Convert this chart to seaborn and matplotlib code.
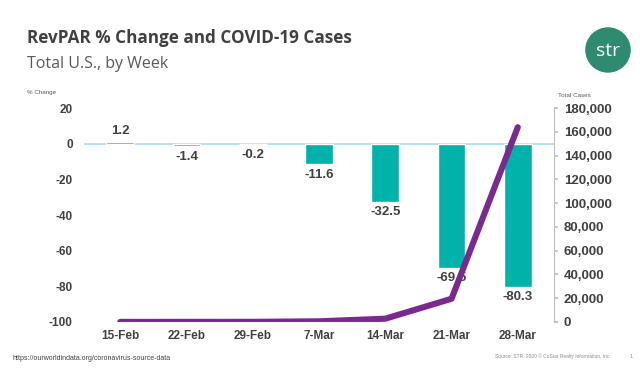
import pandas as pd
import matplotlib.pyplot as plt
import seaborn as sns
from matplotlib.patches import Ellipse

# Data
weeks = ["15-Feb", "22-Feb", "29-Feb", "7-Mar", "14-Mar", "21-Mar", "28-Mar"]
revpar_change = [1.2, -1.4, -0.2, -11.6, -32.5, -69.5, -80.3]
total_cases = [15, 35, 70, 500, 2700, 19500, 164000]

df = pd.DataFrame({"week": weeks, "revpar": revpar_change, "cases": total_cases})

sns.set_theme(style="white")
plt.rcParams['font.family'] = ['Liberation Sans', 'DejaVu Sans']
plt.rcParams['axes.unicode_minus'] = False

teal = "#00B2A9"
purple = "#7A2A8F"
dark = "#404040"

fig = plt.figure(figsize=(6.4, 3.73), dpi=100)
fig.patch.set_facecolor("white")
ax = fig.add_axes([0.131, 0.137, 0.735, 0.573])

sns.barplot(data=df, x="week", y="revpar", color=teal, width=0.42,
            saturation=1, ax=ax, zorder=2)
ax.axhline(0, color="#A8DCEB", lw=1.2, zorder=1)
ax.set_ylim(-100, 20)
ax.set_yticks(range(-100, 21, 20))
ax.set_xlim(-0.55, 6.55)
ax.set_xlabel("")
ax.set_ylabel("")
for s in ax.spines.values():
    s.set_visible(False)
ax.tick_params(axis="y", length=0, labelsize=8.5, labelcolor=dark, pad=8)
ax.tick_params(axis="x", length=0, labelsize=8.5, labelcolor=dark, pad=6)
for lab in ax.get_xticklabels() + ax.get_yticklabels():
    lab.set_fontweight("bold")

# bar value labels
for i, v in enumerate(revpar_change):
    off = 2.5 if v > 0 else -2.5
    ax.text(i, v + off, f"{v:.1f}", ha="center", va="bottom" if v > 0 else "top",
            fontsize=9.5, fontweight="bold", color=dark, zorder=3)

# cases on secondary axis
ax2 = ax.twinx()
sns.lineplot(data=df, x="week", y="cases", color=purple, lw=4.4, ax=ax2,
             sort=False, zorder=4)
ax2.set_ylim(0, 180000)
ax2.set_yticks(range(0, 180001, 20000))
ax2.yaxis.set_major_formatter(plt.FuncFormatter(lambda v, p: f"{int(v):,}"))
ax2.set_ylabel("")
ax2.set_xlabel("")
for k in ["top", "left", "bottom"]:
    ax2.spines[k].set_visible(False)
ax2.spines["right"].set_color("#BFBFBF")
ax2.spines["right"].set_linewidth(0.8)
ax2.tick_params(axis="y", length=3, color="#BFBFBF", labelsize=9.5,
                labelcolor=dark, pad=4, direction="out")
for lab in ax2.get_yticklabels():
    lab.set_fontweight("bold")
ax2.set_xlim(-0.55, 6.55)

# titles and notes
fig.text(0.042, 0.885, "RevPAR % Change and COVID-19 Cases", fontsize=12.3,
         fontweight="bold", color=dark, family=["Open Sans", "DejaVu Sans"])
fig.text(0.042, 0.818, "Total U.S., by Week", fontsize=11.5, color="#595959",
         family=["Open Sans", "DejaVu Sans"])
fig.text(0.042, 0.748, "% Change", fontsize=4.5, color="#595959")
fig.text(0.872, 0.740, "Total Cases", fontsize=4.5, color="#595959")
fig.text(0.02, 0.035, "https://ourworldindata.org/coronavirus-source-data",
         fontsize=5, color="#404040")
fig.text(0.955, 0.040, "Source: STR. 2020 © CoStar Realty Information, Inc.",
         fontsize=3.5, color="#8C8C8C", ha="right")
fig.text(0.983, 0.040, "1", fontsize=4, color="#8C8C8C")

# logo
logo = Ellipse((0.950, 0.866), 0.069, 0.118, transform=fig.transFigure,
               color="#2E8B70", zorder=5)
fig.patches.append(logo)
fig.text(0.950, 0.862, "str", fontsize=14, color="white", ha="center",
         va="center", zorder=6, family=["Open Sans", "DejaVu Sans"])

fig.savefig("out.png", dpi=100)
